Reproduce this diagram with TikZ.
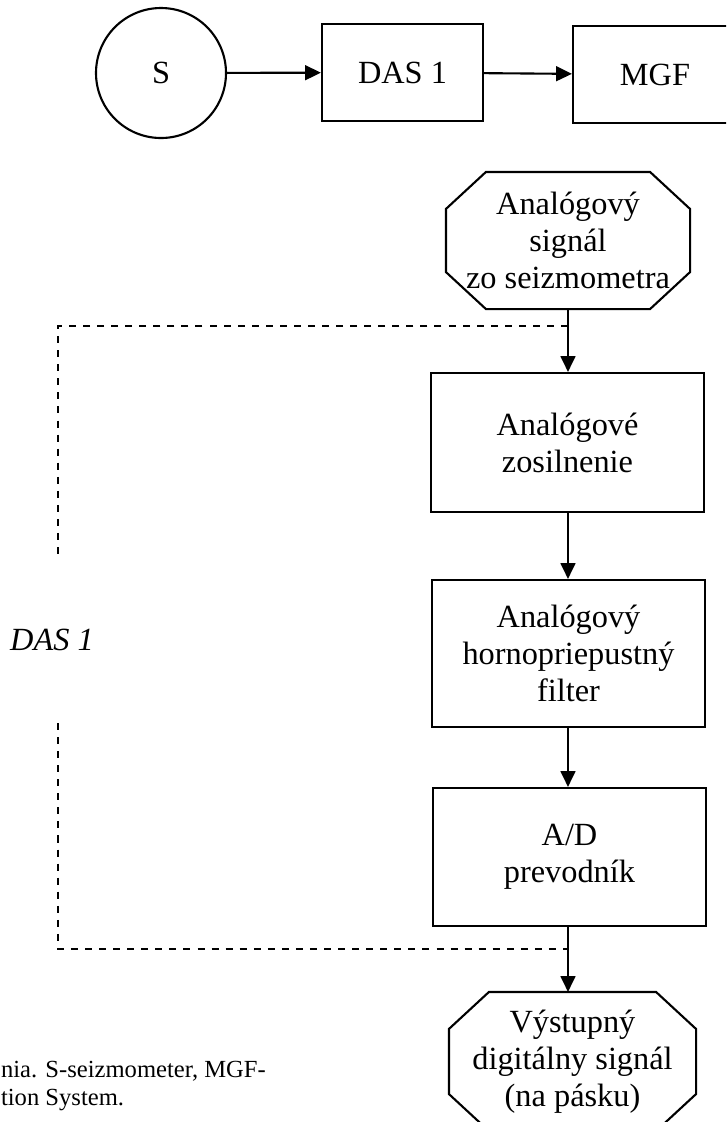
\documentclass[tikz,border=0pt]{standalone}
\usepackage{fontspec}
\setmainfont{Liberation Serif}
\usepackage{tikz}
\usetikzlibrary{arrows.meta, positioning}

% osemuholnik okolo uzla
\newcommand{\osem}[1]{%
  \draw ([xshift=0.40cm]#1.north west) -- ([xshift=-0.40cm]#1.north east)
    -- ([yshift=-0.37cm]#1.north east) -- ([yshift=0.37cm]#1.south east)
    -- ([xshift=-0.40cm]#1.south east) -- ([xshift=0.40cm]#1.south west)
    -- ([yshift=0.37cm]#1.south west) -- ([yshift=-0.37cm]#1.north west) -- cycle;}

\begin{document}
\begin{tikzpicture}[line width=0.6pt, >={Triangle[length=4.5pt, width=4.2pt]},
            font=\fontsize{9.2}{10.5}\selectfont,
            box/.style={draw, rectangle, inner sep=0pt, minimum width=2.73cm, align=center},
            term/.style={rectangle, inner sep=0pt, align=center},
            hranica/.style={dash pattern=on 2pt off 2pt}]
            \clip (0,0) rectangle (7.26,-11.22);
            % horny rad
            \node[draw, circle, minimum size=1.30cm, inner sep=0pt] (s) at (1.61,-0.73) {S};
            \node[box, minimum width=1.61cm, minimum height=0.97cm] (das) at (4.025,-0.725) {DAS 1};
            \node[box, minimum width=1.64cm, minimum height=0.97cm] (mgf) at (6.55,-0.745) {MGF};

            % bloky DAS 1
            \node[term, minimum width=2.42cm, minimum height=1.35cm] (sig) at (5.68,-2.405) {Analógový\\signál\\zo seizmometra};
            \osem{sig}
            \node[box, minimum height=1.39cm] (amp) at (5.675,-4.425) {Analógové\\zosilnenie};
            \node[box, minimum height=1.47cm] (filt) at (5.685,-6.535) {Analógový\\hornopriepustný\\filter};
            \node[box, minimum height=1.38cm] (adc) at (5.695,-8.57) {A/D\\prevodník};
            \node[term, minimum width=2.45cm, minimum height=1.37cm] (out) at (5.725,-10.615) {Výstupný\\digitálny signál\\(na pásku)};
            \osem{out}

            % hranica DAS 1
            \coordinate (hore) at (0.58,-3.26);
            \coordinate (dole) at (0.58,-9.49);
            \node[font=\fontsize{9.2}{10.5}\selectfont\itshape] (lbl) at (0.52,-6.40) {DAS 1};
            \draw[hranica] (hore -| sig.south) -- (hore) -- (0.58,-5.58);
            \draw[hranica] (0.58,-7.23) -- (dole) -- (dole -| sig.south);

            % popis
            \node[anchor=west, inner sep=0pt, align=left, font=\fontsize{7}{8}\selectfont] (popis) at (0,-10.86) {nia. S-seizmometer, MGF-\\tion System.};

            % spojenia
            \draw[->] (s) -- (das);
            \draw[->] (das) -- (mgf);
            \draw[->] (sig.south) -- (sig.south |- amp.north);
            \draw[->] (sig.south |- amp.south) -- (sig.south |- filt.north);
            \draw[->] (sig.south |- filt.south) -- (sig.south |- adc.north);
            \draw[->] (sig.south |- adc.south) -- (sig.south |- out.north);
        \end{tikzpicture}
\end{document}
